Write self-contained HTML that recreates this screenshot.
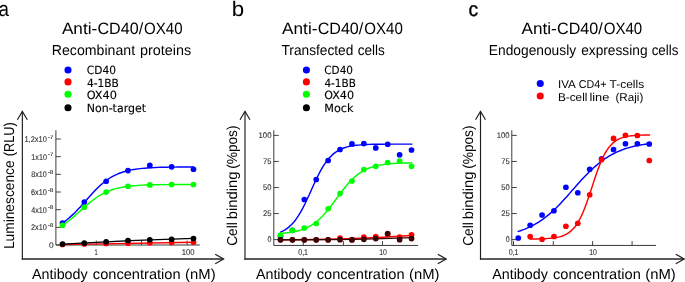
<!DOCTYPE html>
<html><head><meta charset="utf-8"><title>Anti-CD40/OX40 binding</title>
<style>
html,body{margin:0;padding:0;background:#fff;}
svg{display:block;}
text{text-rendering:geometricPrecision;}
</style></head>
<body>
<svg width="685" height="282" viewBox="0 0 685 282">
<rect width="685" height="282" fill="#fff"/>
<text y="16.1" font-size="20.8" font-family='"Liberation Sans", sans-serif' fill="#000"><tspan x="-1.39" textLength="10.47" lengthAdjust="spacingAndGlyphs">a</tspan></text>
<text y="16.2" font-size="21.0" font-family='"Liberation Sans", sans-serif' fill="#000"><tspan x="231.81" textLength="12.40" lengthAdjust="spacingAndGlyphs">b</tspan></text>
<text y="16.2" font-size="20.0" font-family='"Liberation Sans", sans-serif' fill="#000" stroke="#000" stroke-width="0.35"><tspan x="468.60" textLength="9.60" lengthAdjust="spacingAndGlyphs">c</tspan></text>
<text y="33.6" font-size="16.4" font-family='"Liberation Sans", sans-serif' fill="#000"><tspan x="61.90" textLength="35.32" lengthAdjust="spacingAndGlyphs">Anti-</tspan><tspan x="97.44" textLength="45.70" lengthAdjust="spacingAndGlyphs">CD40/</tspan><tspan x="144.09" textLength="38.58" lengthAdjust="spacingAndGlyphs">OX40</tspan></text>
<text y="33.6" font-size="16.4" font-family='"Liberation Sans", sans-serif' fill="#000"><tspan x="282.10" textLength="35.32" lengthAdjust="spacingAndGlyphs">Anti-</tspan><tspan x="317.64" textLength="45.70" lengthAdjust="spacingAndGlyphs">CD40/</tspan><tspan x="364.29" textLength="38.58" lengthAdjust="spacingAndGlyphs">OX40</tspan></text>
<text y="33.6" font-size="16.4" font-family='"Liberation Sans", sans-serif' fill="#000"><tspan x="521.50" textLength="35.32" lengthAdjust="spacingAndGlyphs">Anti-</tspan><tspan x="557.04" textLength="45.70" lengthAdjust="spacingAndGlyphs">CD40/</tspan><tspan x="603.69" textLength="38.58" lengthAdjust="spacingAndGlyphs">OX40</tspan></text>
<text y="54.6" font-size="14.4" font-family='"Liberation Sans", sans-serif' fill="#000"><tspan x="51.80" textLength="83.26" lengthAdjust="spacingAndGlyphs">Recombinant</tspan> <tspan x="140.00" textLength="51.25" lengthAdjust="spacingAndGlyphs">proteins</tspan></text>
<text y="54.6" font-size="14.4" font-family='"Liberation Sans", sans-serif' fill="#000"><tspan x="281.49" textLength="71.88" lengthAdjust="spacingAndGlyphs">Transfected</tspan> <tspan x="357.78" textLength="27.15" lengthAdjust="spacingAndGlyphs">cells</tspan></text>
<text y="54.7" font-size="14.4" font-family='"Liberation Sans", sans-serif' fill="#000"><tspan x="488.82" textLength="87.28" lengthAdjust="spacingAndGlyphs">Endogenously</tspan> <tspan x="581.17" textLength="66.40" lengthAdjust="spacingAndGlyphs">expressing</tspan> <tspan x="651.68" textLength="26.74" lengthAdjust="spacingAndGlyphs">cells</tspan></text>
<circle cx="68" cy="70.0" r="3.55" fill="#0000ff"/>
<text y="74" font-size="11.4" font-family='"DejaVu Sans Condensed", "DejaVu Sans", sans-serif' fill="#000" stroke="#000" stroke-width="0.12"><tspan x="86.74" textLength="29.23" lengthAdjust="spacingAndGlyphs">CD40</tspan></text>
<circle cx="68" cy="81.9" r="3.55" fill="#ff0000"/>
<text y="86.5" font-size="11.4" font-family='"DejaVu Sans Condensed", "DejaVu Sans", sans-serif' fill="#000" stroke="#000" stroke-width="0.12"><tspan x="86.93" textLength="31.91" lengthAdjust="spacingAndGlyphs">4-1BB</tspan></text>
<circle cx="68" cy="94.2" r="3.55" fill="#00ff00"/>
<text y="99.25" font-size="11.4" font-family='"DejaVu Sans Condensed", "DejaVu Sans", sans-serif' fill="#000" stroke="#000" stroke-width="0.12"><tspan x="86.71" textLength="30.25" lengthAdjust="spacingAndGlyphs">OX40</tspan></text>
<circle cx="68" cy="107.7" r="3.55" fill="#000000"/>
<text y="112" font-size="11.4" font-family='"DejaVu Sans Condensed", "DejaVu Sans", sans-serif' fill="#000" stroke="#000" stroke-width="0.12"><tspan x="86.75" textLength="59.26" lengthAdjust="spacingAndGlyphs">Non-target</tspan></text>
<circle cx="306.4" cy="70.0" r="3.55" fill="#0000ff"/>
<text y="74" font-size="11.4" font-family='"DejaVu Sans Condensed", "DejaVu Sans", sans-serif' fill="#000" stroke="#000" stroke-width="0.12"><tspan x="324.25" textLength="28.71" lengthAdjust="spacingAndGlyphs">CD40</tspan></text>
<circle cx="306.4" cy="81.9" r="3.55" fill="#ff0000"/>
<text y="86.5" font-size="11.4" font-family='"DejaVu Sans Condensed", "DejaVu Sans", sans-serif' fill="#000" stroke="#000" stroke-width="0.12"><tspan x="324.44" textLength="31.40" lengthAdjust="spacingAndGlyphs">4-1BB</tspan></text>
<circle cx="306.4" cy="94.2" r="3.55" fill="#00ff00"/>
<text y="99.25" font-size="11.4" font-family='"DejaVu Sans Condensed", "DejaVu Sans", sans-serif' fill="#000" stroke="#000" stroke-width="0.12"><tspan x="324.22" textLength="29.78" lengthAdjust="spacingAndGlyphs">OX40</tspan></text>
<circle cx="306.4" cy="107.7" r="3.55" fill="#000000"/>
<text y="112" font-size="11.4" font-family='"DejaVu Sans Condensed", "DejaVu Sans", sans-serif' fill="#000" stroke="#000" stroke-width="0.12"><tspan x="324.32" textLength="29.25" lengthAdjust="spacingAndGlyphs">Mock</tspan></text>
<circle cx="540.25" cy="83.5" r="3.55" fill="#0000ff"/>
<circle cx="540.25" cy="96" r="3.55" fill="#ff0000"/>
<text y="87.9" font-size="11.4" font-family='"Liberation Sans", sans-serif' fill="#000"><tspan x="558.03" textLength="17.22" lengthAdjust="spacingAndGlyphs">IVA</tspan> <tspan x="578.80" textLength="27.60" lengthAdjust="spacingAndGlyphs">CD4+</tspan> <tspan x="609.61" textLength="34.56" lengthAdjust="spacingAndGlyphs">T-cells</tspan></text>
<text y="100.7" font-size="11.4" font-family='"Liberation Sans", sans-serif' fill="#000"><tspan x="557.98" textLength="29.39" lengthAdjust="spacingAndGlyphs">B-cell</tspan> <tspan x="589.40" textLength="19.92" lengthAdjust="spacingAndGlyphs">line</tspan> <tspan x="615.45" textLength="27.85" lengthAdjust="spacingAndGlyphs">(Raji)</tspan></text>
<text transform="translate(13.8 0) rotate(-90)" font-size="14.4" font-family='"Liberation Sans", sans-serif' fill="#000"><tspan x="-249.07" textLength="88.63" lengthAdjust="spacingAndGlyphs">Luminescence</tspan> <tspan x="-156.20" textLength="33.85" lengthAdjust="spacingAndGlyphs">(RLU)</tspan></text>
<text transform="translate(237.2 0) rotate(-90)" font-size="14.4" font-family='"Liberation Sans", sans-serif' fill="#000"><tspan x="-245.85" textLength="23.76" lengthAdjust="spacingAndGlyphs">Cell</tspan> <tspan x="-219.22" textLength="47.65" lengthAdjust="spacingAndGlyphs">binding</tspan> <tspan x="-168.84" textLength="43.35" lengthAdjust="spacingAndGlyphs">(%pos)</tspan></text>
<text transform="translate(473.0 0) rotate(-90)" font-size="14.4" font-family='"Liberation Sans", sans-serif' fill="#000"><tspan x="-245.85" textLength="23.76" lengthAdjust="spacingAndGlyphs">Cell</tspan> <tspan x="-219.22" textLength="47.65" lengthAdjust="spacingAndGlyphs">binding</tspan> <tspan x="-168.84" textLength="43.35" lengthAdjust="spacingAndGlyphs">(%pos)</tspan></text>
<text y="279.1" font-size="14.4" font-family='"Liberation Sans", sans-serif' fill="#000"><tspan x="32.00" textLength="55.70" lengthAdjust="spacingAndGlyphs">Antibody</tspan> <tspan x="92.84" textLength="87.78" lengthAdjust="spacingAndGlyphs">concentration</tspan> <tspan x="185.11" textLength="30.46" lengthAdjust="spacingAndGlyphs">(nM)</tspan></text>
<text y="279.1" font-size="14.4" font-family='"Liberation Sans", sans-serif' fill="#000"><tspan x="255.90" textLength="55.70" lengthAdjust="spacingAndGlyphs">Antibody</tspan> <tspan x="316.74" textLength="87.78" lengthAdjust="spacingAndGlyphs">concentration</tspan> <tspan x="409.01" textLength="30.46" lengthAdjust="spacingAndGlyphs">(nM)</tspan></text>
<text y="279.1" font-size="14.4" font-family='"Liberation Sans", sans-serif' fill="#000"><tspan x="492.20" textLength="55.70" lengthAdjust="spacingAndGlyphs">Antibody</tspan> <tspan x="553.04" textLength="87.78" lengthAdjust="spacingAndGlyphs">concentration</tspan> <tspan x="645.31" textLength="30.46" lengthAdjust="spacingAndGlyphs">(nM)</tspan></text>
<path d="M22.35 111.4 L22.35 259.7" fill="none" stroke="#1e1e1e" stroke-width="1.15"/>
<path d="M21.8 258.95 L223.6 258.95" fill="none" stroke="#242424" stroke-width="1.35"/>
<path d="M17.35 119.80000000000001 L22.35 111.4 L27.35 119.80000000000001" fill="none" stroke="#1e1e1e" stroke-width="1.15"/>
<path d="M215.2 254.14999999999998 L223.6 258.95 L215.2 263.75" fill="none" stroke="#1e1e1e" stroke-width="1.15"/>
<path d="M245 111.4 L245 259.7" fill="none" stroke="#1e1e1e" stroke-width="1.15"/>
<path d="M244.45 258.95 L446.2 258.95" fill="none" stroke="#242424" stroke-width="1.35"/>
<path d="M240 119.80000000000001 L245 111.4 L250 119.80000000000001" fill="none" stroke="#1e1e1e" stroke-width="1.15"/>
<path d="M437.8 254.14999999999998 L446.2 258.95 L437.8 263.75" fill="none" stroke="#1e1e1e" stroke-width="1.15"/>
<path d="M480.5 111.4 L480.5 259.7" fill="none" stroke="#1e1e1e" stroke-width="1.15"/>
<path d="M479.95 258.95 L684.2 258.95" fill="none" stroke="#242424" stroke-width="1.35"/>
<path d="M475.5 119.80000000000001 L480.5 111.4 L485.5 119.80000000000001" fill="none" stroke="#1e1e1e" stroke-width="1.15"/>
<path d="M675.8000000000001 254.14999999999998 L684.2 258.95 L675.8000000000001 263.75" fill="none" stroke="#1e1e1e" stroke-width="1.15"/>
<path d="M55.9 130.3 L55.9 245.0 L199.8 245.0" fill="none" stroke="#303030" stroke-width="0.95"/>
<path d="M55.9 139.0 L60.9 139.0" stroke="#303030" stroke-width="0.9"/>
<path d="M55.9 156.67000000000002 L60.9 156.67000000000002" stroke="#303030" stroke-width="0.9"/>
<path d="M55.9 174.34 L60.9 174.34" stroke="#303030" stroke-width="0.9"/>
<path d="M55.9 192.01 L60.9 192.01" stroke="#303030" stroke-width="0.9"/>
<path d="M55.9 209.68 L60.9 209.68" stroke="#303030" stroke-width="0.9"/>
<path d="M55.9 227.35000000000002 L60.9 227.35000000000002" stroke="#303030" stroke-width="0.9"/>
<path d="M55.9 245.02 L60.9 245.02" stroke="#303030" stroke-width="0.9"/>
<path d="M96.3 245.0 L96.3 240.6" stroke="#303030" stroke-width="0.9"/>
<path d="M141.5 245.0 L141.5 240.6" stroke="#303030" stroke-width="0.9"/>
<path d="M187.1 245.0 L187.1 240.6" stroke="#303030" stroke-width="0.9"/>
<path d="M273.8 130.3 L273.8 245.45 L418 245.45" fill="none" stroke="#303030" stroke-width="0.95"/>
<path d="M273.8 135.4 L278.8 135.4" stroke="#303030" stroke-width="0.9"/>
<path d="M273.8 161.45000000000002 L278.8 161.45000000000002" stroke="#303030" stroke-width="0.9"/>
<path d="M273.8 187.5 L278.8 187.5" stroke="#303030" stroke-width="0.9"/>
<path d="M273.8 213.55 L278.8 213.55" stroke="#303030" stroke-width="0.9"/>
<path d="M273.8 239.60000000000002 L278.8 239.60000000000002" stroke="#303030" stroke-width="0.9"/>
<path d="M303.3 245.45 L303.3 241.04999999999998" stroke="#303030" stroke-width="0.9"/>
<path d="M343.4 245.45 L343.4 241.04999999999998" stroke="#303030" stroke-width="0.9"/>
<path d="M382.5 245.45 L382.5 241.04999999999998" stroke="#303030" stroke-width="0.9"/>
<path d="M511.8 130.3 L511.8 245.45 L656 245.45" fill="none" stroke="#303030" stroke-width="0.95"/>
<path d="M511.8 135.4 L516.8 135.4" stroke="#303030" stroke-width="0.9"/>
<path d="M511.8 161.45000000000002 L516.8 161.45000000000002" stroke="#303030" stroke-width="0.9"/>
<path d="M511.8 187.5 L516.8 187.5" stroke="#303030" stroke-width="0.9"/>
<path d="M511.8 213.55 L516.8 213.55" stroke="#303030" stroke-width="0.9"/>
<path d="M511.8 239.60000000000002 L516.8 239.60000000000002" stroke="#303030" stroke-width="0.9"/>
<path d="M513.5 245.45 L513.5 241.04999999999998" stroke="#303030" stroke-width="0.9"/>
<path d="M553.3 245.45 L553.3 241.04999999999998" stroke="#303030" stroke-width="0.9"/>
<path d="M592.6 245.45 L592.6 241.04999999999998" stroke="#303030" stroke-width="0.9"/>
<path d="M632.1 245.45 L632.1 241.04999999999998" stroke="#303030" stroke-width="0.9"/>
<text y="142.1" font-size="8.2" font-family='"Liberation Sans", sans-serif' fill="#303030" stroke="#2a2a2a" stroke-width="0.1"><tspan x="24.43" textLength="22.45" lengthAdjust="spacingAndGlyphs">1,2x10</tspan></text>
<text y="138.7" font-size="5.2" font-family='"Liberation Sans", sans-serif' fill="#303030" stroke="#2a2a2a" stroke-width="0.1"><tspan x="47.70" textLength="5.77" lengthAdjust="spacingAndGlyphs">-7</tspan></text>
<text y="159.77" font-size="8.2" font-family='"Liberation Sans", sans-serif' fill="#303030" stroke="#2a2a2a" stroke-width="0.1"><tspan x="31.35" textLength="15.53" lengthAdjust="spacingAndGlyphs">1x10</tspan></text>
<text y="156.37" font-size="5.2" font-family='"Liberation Sans", sans-serif' fill="#303030" stroke="#2a2a2a" stroke-width="0.1"><tspan x="47.70" textLength="5.77" lengthAdjust="spacingAndGlyphs">-7</tspan></text>
<text y="177.44" font-size="8.2" font-family='"Liberation Sans", sans-serif' fill="#303030" stroke="#2a2a2a" stroke-width="0.1"><tspan x="31.17" textLength="15.71" lengthAdjust="spacingAndGlyphs">8x10</tspan></text>
<text y="174.04" font-size="5.2" font-family='"Liberation Sans", sans-serif' fill="#303030" stroke="#2a2a2a" stroke-width="0.1"><tspan x="47.70" textLength="5.77" lengthAdjust="spacingAndGlyphs">-8</tspan></text>
<text y="195.11" font-size="8.2" font-family='"Liberation Sans", sans-serif' fill="#303030" stroke="#2a2a2a" stroke-width="0.1"><tspan x="31.06" textLength="15.82" lengthAdjust="spacingAndGlyphs">6x10</tspan></text>
<text y="191.71" font-size="5.2" font-family='"Liberation Sans", sans-serif' fill="#303030" stroke="#2a2a2a" stroke-width="0.1"><tspan x="47.70" textLength="5.77" lengthAdjust="spacingAndGlyphs">-8</tspan></text>
<text y="212.78" font-size="8.2" font-family='"Liberation Sans", sans-serif' fill="#303030" stroke="#2a2a2a" stroke-width="0.1"><tspan x="31.29" textLength="15.59" lengthAdjust="spacingAndGlyphs">4x10</tspan></text>
<text y="209.38" font-size="5.2" font-family='"Liberation Sans", sans-serif' fill="#303030" stroke="#2a2a2a" stroke-width="0.1"><tspan x="47.70" textLength="5.77" lengthAdjust="spacingAndGlyphs">-8</tspan></text>
<text y="230.45" font-size="8.2" font-family='"Liberation Sans", sans-serif' fill="#303030" stroke="#2a2a2a" stroke-width="0.1"><tspan x="31.06" textLength="15.82" lengthAdjust="spacingAndGlyphs">2x10</tspan></text>
<text y="227.05" font-size="5.2" font-family='"Liberation Sans", sans-serif' fill="#303030" stroke="#2a2a2a" stroke-width="0.1"><tspan x="47.70" textLength="5.77" lengthAdjust="spacingAndGlyphs">-8</tspan></text>
<text y="247.92" font-size="8.2" font-family='"Liberation Sans", sans-serif' fill="#303030" stroke="#2a2a2a" stroke-width="0.1"><tspan x="49.04" textLength="4.67" lengthAdjust="spacingAndGlyphs">0</tspan></text>
<text y="138.25" font-size="8.1" font-family='"Liberation Sans", sans-serif' fill="#303030" stroke="#2a2a2a" stroke-width="0.1"><tspan x="258.52" textLength="12.93" lengthAdjust="spacingAndGlyphs">100</tspan></text>
<text y="164.3" font-size="8.1" font-family='"Liberation Sans", sans-serif' fill="#303030" stroke="#2a2a2a" stroke-width="0.1"><tspan x="263.04" textLength="8.52" lengthAdjust="spacingAndGlyphs">75</tspan></text>
<text y="190.35" font-size="8.1" font-family='"Liberation Sans", sans-serif' fill="#303030" stroke="#2a2a2a" stroke-width="0.1"><tspan x="263.06" textLength="8.37" lengthAdjust="spacingAndGlyphs">50</tspan></text>
<text y="216.4" font-size="8.1" font-family='"Liberation Sans", sans-serif' fill="#303030" stroke="#2a2a2a" stroke-width="0.1"><tspan x="262.94" textLength="8.63" lengthAdjust="spacingAndGlyphs">25</tspan></text>
<text y="242.45" font-size="8.1" font-family='"Liberation Sans", sans-serif' fill="#303030" stroke="#2a2a2a" stroke-width="0.1"><tspan x="267.48" textLength="3.95" lengthAdjust="spacingAndGlyphs">0</tspan></text>
<text y="138.25" font-size="8.1" font-family='"Liberation Sans", sans-serif' fill="#303030" stroke="#2a2a2a" stroke-width="0.1"><tspan x="496.72" textLength="12.93" lengthAdjust="spacingAndGlyphs">100</tspan></text>
<text y="164.3" font-size="8.1" font-family='"Liberation Sans", sans-serif' fill="#303030" stroke="#2a2a2a" stroke-width="0.1"><tspan x="501.24" textLength="8.52" lengthAdjust="spacingAndGlyphs">75</tspan></text>
<text y="190.35" font-size="8.1" font-family='"Liberation Sans", sans-serif' fill="#303030" stroke="#2a2a2a" stroke-width="0.1"><tspan x="501.26" textLength="8.37" lengthAdjust="spacingAndGlyphs">50</tspan></text>
<text y="216.4" font-size="8.1" font-family='"Liberation Sans", sans-serif' fill="#303030" stroke="#2a2a2a" stroke-width="0.1"><tspan x="501.14" textLength="8.63" lengthAdjust="spacingAndGlyphs">25</tspan></text>
<text y="242.45" font-size="8.1" font-family='"Liberation Sans", sans-serif' fill="#303030" stroke="#2a2a2a" stroke-width="0.1"><tspan x="505.68" textLength="3.95" lengthAdjust="spacingAndGlyphs">0</tspan></text>
<text y="254.8" font-size="8.4" font-family='"Liberation Sans", sans-serif' fill="#303030" stroke="#2a2a2a" stroke-width="0.1"><tspan x="94.54" textLength="3.19" lengthAdjust="spacingAndGlyphs">1</tspan></text>
<text y="254.8" font-size="8.4" font-family='"Liberation Sans", sans-serif' fill="#303030" stroke="#2a2a2a" stroke-width="0.1"><tspan x="181.72" textLength="12.87" lengthAdjust="spacingAndGlyphs">100</tspan></text>
<text y="254.8" font-size="8.4" font-family='"Liberation Sans", sans-serif' fill="#303030" stroke="#2a2a2a" stroke-width="0.1"><tspan x="298.18" textLength="9.91" lengthAdjust="spacingAndGlyphs">0,1</tspan></text>
<text y="254.8" font-size="8.4" font-family='"Liberation Sans", sans-serif' fill="#303030" stroke="#2a2a2a" stroke-width="0.1"><tspan x="379.17" textLength="7.71" lengthAdjust="spacingAndGlyphs">10</tspan></text>
<text y="254.8" font-size="8.4" font-family='"Liberation Sans", sans-serif' fill="#303030" stroke="#2a2a2a" stroke-width="0.1"><tspan x="508.68" textLength="9.91" lengthAdjust="spacingAndGlyphs">0,1</tspan></text>
<text y="254.8" font-size="8.4" font-family='"Liberation Sans", sans-serif' fill="#303030" stroke="#2a2a2a" stroke-width="0.1"><tspan x="589.17" textLength="7.71" lengthAdjust="spacingAndGlyphs">10</tspan></text>
<path d="M62.5 222.9 L64.7 221.4 L66.9 219.7 L69.2 217.9 L71.4 215.9 L73.6 213.9 L75.8 211.7 L78.0 209.3 L80.3 206.9 L82.5 204.5 L84.7 201.9 L86.9 199.4 L89.1 196.9 L91.4 194.4 L93.6 192.0 L95.8 189.7 L98.0 187.5 L100.2 185.4 L102.5 183.5 L104.7 181.7 L106.9 180.0 L109.1 178.5 L111.3 177.2 L113.6 175.9 L115.8 174.8 L118.0 173.8 L120.2 173.0 L122.4 172.2 L124.7 171.5 L126.9 170.9 L129.1 170.4 L131.3 169.9 L133.5 169.5 L135.8 169.2 L138.0 168.9 L140.2 168.6 L142.4 168.4 L144.6 168.2 L146.9 168.0 L149.1 167.8 L151.3 167.7 L153.5 167.6 L155.7 167.5 L158.0 167.4 L160.2 167.3 L162.4 167.3 L164.6 167.2 L166.8 167.2 L169.1 167.1 L171.3 167.1 L173.5 167.1 L175.7 167.1 L177.9 167.0 L180.2 167.0 L182.4 167.0 L184.6 167.0 L186.8 167.0 L189.0 167.0 L191.3 166.9 L193.5 166.9" fill="none" stroke="#0000ff" stroke-width="1.45" stroke-linejoin="round" stroke-linecap="round"/>
<circle cx="62.50" cy="223.00" r="2.85" fill="#0000ff"/>
<circle cx="84.33" cy="202.00" r="2.85" fill="#0000ff"/>
<circle cx="106.16" cy="181.25" r="2.85" fill="#0000ff"/>
<circle cx="127.99" cy="170.60" r="2.85" fill="#0000ff"/>
<circle cx="149.82" cy="165.40" r="2.85" fill="#0000ff"/>
<circle cx="171.65" cy="166.80" r="2.85" fill="#0000ff"/>
<circle cx="193.48" cy="169.25" r="2.85" fill="#0000ff"/>
<path d="M62.5 244.6 L193.48 242.2" fill="none" stroke="#ff0000" stroke-width="1.45" stroke-linejoin="round" stroke-linecap="round"/>
<circle cx="62.50" cy="244.50" r="2.85" fill="#ff0000"/>
<circle cx="84.33" cy="244.00" r="2.85" fill="#ff0000"/>
<circle cx="106.16" cy="243.50" r="2.85" fill="#ff0000"/>
<circle cx="127.99" cy="243.25" r="2.85" fill="#ff0000"/>
<circle cx="149.82" cy="242.75" r="2.85" fill="#ff0000"/>
<circle cx="171.65" cy="242.50" r="2.85" fill="#ff0000"/>
<circle cx="193.48" cy="242.25" r="2.85" fill="#ff0000"/>
<path d="M62.5 225.2 L64.7 223.8 L66.9 222.2 L69.2 220.5 L71.4 218.7 L73.6 216.9 L75.8 214.9 L78.0 213.0 L80.3 210.9 L82.5 208.9 L84.7 206.9 L86.9 205.0 L89.1 203.1 L91.4 201.3 L93.6 199.6 L95.8 198.0 L98.0 196.5 L100.2 195.1 L102.5 193.9 L104.7 192.7 L106.9 191.7 L109.1 190.8 L111.3 190.0 L113.6 189.3 L115.8 188.6 L118.0 188.1 L120.2 187.6 L122.4 187.2 L124.7 186.8 L126.9 186.5 L129.1 186.2 L131.3 186.0 L133.5 185.7 L135.8 185.6 L138.0 185.4 L140.2 185.3 L142.4 185.1 L144.6 185.0 L146.9 185.0 L149.1 184.9 L151.3 184.8 L153.5 184.8 L155.7 184.7 L158.0 184.7 L160.2 184.6 L162.4 184.6 L164.6 184.6 L166.8 184.6 L169.1 184.5 L171.3 184.5 L173.5 184.5 L175.7 184.5 L177.9 184.5 L180.2 184.5 L182.4 184.5 L184.6 184.5 L186.8 184.5 L189.0 184.5 L191.3 184.5 L193.5 184.5" fill="none" stroke="#00ff00" stroke-width="1.45" stroke-linejoin="round" stroke-linecap="round"/>
<circle cx="62.50" cy="225.25" r="2.85" fill="#00ff00"/>
<circle cx="84.33" cy="207.25" r="2.85" fill="#00ff00"/>
<circle cx="106.16" cy="192.10" r="2.85" fill="#00ff00"/>
<circle cx="127.99" cy="186.25" r="2.85" fill="#00ff00"/>
<circle cx="149.82" cy="184.90" r="2.85" fill="#00ff00"/>
<circle cx="171.65" cy="184.50" r="2.85" fill="#00ff00"/>
<circle cx="193.48" cy="184.50" r="2.85" fill="#00ff00"/>
<path d="M62.5 244.1 Q 128 240.2 193.48 238.4" fill="none" stroke="#000000" stroke-width="1.45" stroke-linejoin="round" stroke-linecap="round"/>
<circle cx="62.50" cy="244.00" r="2.85" fill="#000000"/>
<circle cx="84.33" cy="243.00" r="2.85" fill="#000000"/>
<circle cx="106.16" cy="241.75" r="2.85" fill="#000000"/>
<circle cx="127.99" cy="240.50" r="2.85" fill="#000000"/>
<circle cx="149.82" cy="239.75" r="2.85" fill="#000000"/>
<circle cx="171.65" cy="239.25" r="2.85" fill="#000000"/>
<circle cx="193.48" cy="238.50" r="2.85" fill="#000000"/>
<path d="M280.5 232.2 L282.7 231.2 L285.0 229.9 L287.2 228.4 L289.4 226.6 L291.6 224.5 L293.9 222.0 L296.1 219.1 L298.3 215.9 L300.6 212.2 L302.8 208.1 L305.0 203.7 L307.2 199.0 L309.5 194.2 L311.7 189.2 L313.9 184.3 L316.2 179.5 L318.4 175.0 L320.6 170.7 L322.8 166.9 L325.1 163.4 L327.3 160.3 L329.5 157.7 L331.8 155.4 L334.0 153.4 L336.2 151.8 L338.4 150.4 L340.7 149.2 L342.9 148.3 L345.1 147.5 L347.4 146.9 L349.6 146.3 L351.8 145.9 L354.1 145.6 L356.3 145.3 L358.5 145.1 L360.7 144.9 L363.0 144.7 L365.2 144.6 L367.4 144.5 L369.7 144.4 L371.9 144.3 L374.1 144.3 L376.3 144.3 L378.6 144.2 L380.8 144.2 L383.0 144.2 L385.3 144.1 L387.5 144.1 L389.7 144.1 L391.9 144.1 L394.2 144.1 L396.4 144.1 L398.6 144.1 L400.9 144.1 L403.1 144.1 L405.3 144.1 L407.5 144.1 L409.8 144.1 L412.0 144.1" fill="none" stroke="#0000ff" stroke-width="1.45" stroke-linejoin="round" stroke-linecap="round"/>
<circle cx="280.50" cy="236.20" r="2.85" fill="#0000ff"/>
<circle cx="292.41" cy="230.30" r="2.85" fill="#0000ff"/>
<circle cx="304.32" cy="199.50" r="2.85" fill="#0000ff"/>
<circle cx="316.23" cy="179.50" r="2.85" fill="#0000ff"/>
<circle cx="328.14" cy="160.50" r="2.85" fill="#0000ff"/>
<circle cx="340.05" cy="149.50" r="2.85" fill="#0000ff"/>
<circle cx="351.96" cy="143.90" r="2.85" fill="#0000ff"/>
<circle cx="363.87" cy="143.60" r="2.85" fill="#0000ff"/>
<circle cx="375.78" cy="147.90" r="2.85" fill="#0000ff"/>
<circle cx="387.69" cy="144.25" r="2.85" fill="#0000ff"/>
<circle cx="399.60" cy="154.75" r="2.85" fill="#0000ff"/>
<circle cx="411.51" cy="150.00" r="2.85" fill="#0000ff"/>
<path d="M280.5 239.8 Q 340 240.1 411.51 235.5" fill="none" stroke="#ff0000" stroke-width="1.45" stroke-linejoin="round" stroke-linecap="round"/>
<circle cx="280.50" cy="239.80" r="2.85" fill="#ff0000"/>
<circle cx="292.41" cy="239.80" r="2.85" fill="#ff0000"/>
<circle cx="304.32" cy="239.80" r="2.85" fill="#ff0000"/>
<circle cx="316.23" cy="239.80" r="2.85" fill="#ff0000"/>
<circle cx="328.14" cy="239.80" r="2.85" fill="#ff0000"/>
<circle cx="340.05" cy="238.00" r="2.85" fill="#ff0000"/>
<circle cx="351.96" cy="239.60" r="2.85" fill="#ff0000"/>
<circle cx="363.87" cy="237.10" r="2.85" fill="#ff0000"/>
<circle cx="375.78" cy="236.50" r="2.85" fill="#ff0000"/>
<circle cx="387.69" cy="234.30" r="2.85" fill="#ff0000"/>
<circle cx="399.60" cy="237.10" r="2.85" fill="#ff0000"/>
<circle cx="411.51" cy="234.90" r="2.85" fill="#ff0000"/>
<path d="M280.5 233.4 L282.7 233.2 L284.9 233.0 L287.2 232.8 L289.4 232.5 L291.6 232.1 L293.8 231.7 L296.0 231.3 L298.3 230.7 L300.5 230.1 L302.7 229.4 L304.9 228.5 L307.1 227.5 L309.4 226.4 L311.6 225.1 L313.8 223.7 L316.0 222.0 L318.2 220.2 L320.5 218.2 L322.7 216.0 L324.9 213.5 L327.1 210.9 L329.4 208.2 L331.6 205.3 L333.8 202.3 L336.0 199.3 L338.2 196.3 L340.5 193.2 L342.7 190.3 L344.9 187.5 L347.1 184.8 L349.3 182.3 L351.6 179.9 L353.8 177.8 L356.0 175.9 L358.2 174.1 L360.4 172.6 L362.7 171.2 L364.9 170.0 L367.1 168.9 L369.3 168.0 L371.5 167.2 L373.8 166.5 L376.0 165.9 L378.2 165.4 L380.4 165.0 L382.6 164.6 L384.9 164.3 L387.1 164.1 L389.3 163.8 L391.5 163.6 L393.7 163.5 L396.0 163.3 L398.2 163.2 L400.4 163.1 L402.6 163.0 L404.8 163.0 L407.1 162.9 L409.3 162.9 L411.5 162.8" fill="none" stroke="#00ff00" stroke-width="1.45" stroke-linejoin="round" stroke-linecap="round"/>
<circle cx="280.50" cy="235.00" r="2.85" fill="#00ff00"/>
<circle cx="292.41" cy="230.25" r="2.85" fill="#00ff00"/>
<circle cx="304.32" cy="228.00" r="2.85" fill="#00ff00"/>
<circle cx="316.23" cy="223.50" r="2.85" fill="#00ff00"/>
<circle cx="328.14" cy="208.75" r="2.85" fill="#00ff00"/>
<circle cx="340.05" cy="193.50" r="2.85" fill="#00ff00"/>
<circle cx="351.96" cy="181.00" r="2.85" fill="#00ff00"/>
<circle cx="363.87" cy="169.50" r="2.85" fill="#00ff00"/>
<circle cx="375.78" cy="166.25" r="2.85" fill="#00ff00"/>
<circle cx="387.69" cy="162.50" r="2.85" fill="#00ff00"/>
<circle cx="399.60" cy="161.00" r="2.85" fill="#00ff00"/>
<circle cx="411.51" cy="166.25" r="2.85" fill="#00ff00"/>
<path d="M280.5 239.7 Q 340 240.3 411.51 237.6" fill="none" stroke="#3a0404" stroke-width="1.45" stroke-linejoin="round" stroke-linecap="round"/>
<circle cx="280.50" cy="239.80" r="2.85" fill="#3a0404"/>
<circle cx="292.41" cy="239.80" r="2.85" fill="#3a0404"/>
<circle cx="304.32" cy="239.80" r="2.85" fill="#3a0404"/>
<circle cx="316.23" cy="239.80" r="2.85" fill="#3a0404"/>
<circle cx="328.14" cy="239.80" r="2.85" fill="#3a0404"/>
<circle cx="340.05" cy="239.70" r="2.85" fill="#3a0404"/>
<circle cx="351.96" cy="239.90" r="2.85" fill="#3a0404"/>
<circle cx="363.87" cy="239.30" r="2.85" fill="#3a0404"/>
<circle cx="375.78" cy="238.60" r="2.85" fill="#3a0404"/>
<circle cx="387.69" cy="233.60" r="2.85" fill="#3a0404"/>
<circle cx="399.60" cy="239.70" r="2.85" fill="#3a0404"/>
<circle cx="411.51" cy="238.60" r="2.85" fill="#3a0404"/>
<path d="M518.2 231.4 L520.5 230.7 L522.7 229.9 L524.9 229.1 L527.1 228.2 L529.4 227.2 L531.6 226.1 L533.8 224.9 L536.0 223.7 L538.3 222.3 L540.5 220.9 L542.7 219.3 L544.9 217.7 L547.2 215.9 L549.4 214.1 L551.6 212.1 L553.8 210.1 L556.1 207.9 L558.3 205.7 L560.5 203.4 L562.7 201.1 L565.0 198.6 L567.2 196.2 L569.4 193.6 L571.6 191.1 L573.9 188.6 L576.1 186.0 L578.3 183.5 L580.5 181.1 L582.8 178.6 L585.0 176.3 L587.2 173.9 L589.4 171.7 L591.7 169.6 L593.9 167.5 L596.1 165.6 L598.3 163.7 L600.6 161.9 L602.8 160.3 L605.0 158.7 L607.2 157.3 L609.5 155.9 L611.7 154.6 L613.9 153.5 L616.1 152.4 L618.4 151.4 L620.6 150.5 L622.8 149.6 L625.0 148.8 L627.3 148.1 L629.5 147.5 L631.7 146.9 L633.9 146.3 L636.2 145.9 L638.4 145.4 L640.6 145.0 L642.8 144.6 L645.1 144.3 L647.3 144.0 L649.5 143.7" fill="none" stroke="#0000ff" stroke-width="1.45" stroke-linejoin="round" stroke-linecap="round"/>
<circle cx="518.25" cy="238.00" r="2.85" fill="#0000ff"/>
<circle cx="530.16" cy="225.25" r="2.85" fill="#0000ff"/>
<circle cx="542.07" cy="215.00" r="2.85" fill="#0000ff"/>
<circle cx="553.98" cy="210.75" r="2.85" fill="#0000ff"/>
<circle cx="565.89" cy="187.25" r="2.85" fill="#0000ff"/>
<circle cx="577.80" cy="192.75" r="2.85" fill="#0000ff"/>
<circle cx="589.71" cy="169.25" r="2.85" fill="#0000ff"/>
<circle cx="601.62" cy="158.75" r="2.85" fill="#0000ff"/>
<circle cx="613.53" cy="149.50" r="2.85" fill="#0000ff"/>
<circle cx="625.44" cy="143.75" r="2.85" fill="#0000ff"/>
<circle cx="637.35" cy="143.75" r="2.85" fill="#0000ff"/>
<circle cx="649.26" cy="144.00" r="2.85" fill="#0000ff"/>
<path d="M530.0 239.0 L532.0 238.9 L534.1 238.9 L536.1 238.9 L538.1 238.9 L540.1 238.8 L542.2 238.7 L544.2 238.7 L546.2 238.6 L548.2 238.4 L550.3 238.3 L552.3 238.1 L554.3 237.8 L556.3 237.5 L558.4 237.1 L560.4 236.6 L562.4 236.0 L564.4 235.2 L566.5 234.2 L568.5 232.9 L570.5 231.4 L572.5 229.5 L574.6 227.3 L576.6 224.5 L578.6 221.3 L580.6 217.5 L582.7 213.1 L584.7 208.2 L586.7 202.8 L588.7 196.9 L590.8 190.8 L592.8 184.6 L594.8 178.5 L596.8 172.6 L598.9 167.0 L600.9 162.0 L602.9 157.4 L604.9 153.5 L607.0 150.1 L609.0 147.2 L611.0 144.9 L613.0 142.9 L615.1 141.3 L617.1 140.0 L619.1 138.9 L621.1 138.1 L623.2 137.4 L625.2 136.8 L627.2 136.4 L629.2 136.1 L631.3 135.8 L633.3 135.6 L635.3 135.4 L637.3 135.3 L639.4 135.2 L641.4 135.1 L643.4 135.0 L645.4 135.0 L647.5 134.9 L649.5 134.9" fill="none" stroke="#ff0000" stroke-width="1.45" stroke-linejoin="round" stroke-linecap="round"/>
<circle cx="530.16" cy="236.50" r="2.85" fill="#ff0000"/>
<circle cx="542.07" cy="239.25" r="2.85" fill="#ff0000"/>
<circle cx="553.98" cy="236.50" r="2.85" fill="#ff0000"/>
<circle cx="565.89" cy="226.25" r="2.85" fill="#ff0000"/>
<circle cx="577.80" cy="223.25" r="2.85" fill="#ff0000"/>
<circle cx="589.71" cy="194.75" r="2.85" fill="#ff0000"/>
<circle cx="601.62" cy="159.50" r="2.85" fill="#ff0000"/>
<circle cx="613.53" cy="138.40" r="2.85" fill="#ff0000"/>
<circle cx="625.44" cy="135.25" r="2.85" fill="#ff0000"/>
<circle cx="637.35" cy="135.50" r="2.85" fill="#ff0000"/>
<circle cx="649.26" cy="160.50" r="2.85" fill="#ff0000"/>
</svg>
</body></html>
